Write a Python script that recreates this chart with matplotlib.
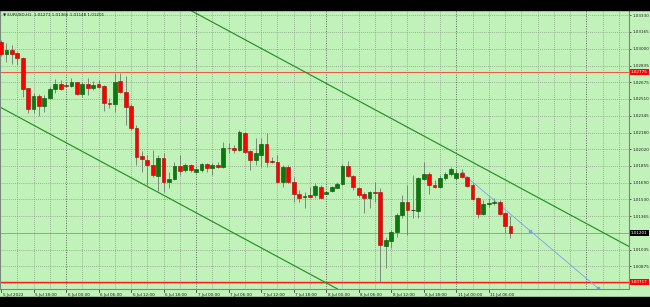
import numpy as np
import matplotlib.pyplot as plt
from matplotlib.patches import Rectangle
import matplotlib.transforms as mtransforms

# EURUSD H1 candles, 5 Jul 2022 12:00 -> 11 Jul 2022 10:00
opens = [1.03069, 1.02946, 1.02991, 1.02956, 1.02913, 1.02614, 1.02412, 1.02539, 1.02444, 1.02516,
         1.02607, 1.02656, 1.02643, 1.02636, 1.02673, 1.02558, 1.02656, 1.02614, 1.02653, 1.02636,
         1.02470, 1.02458, 1.02685, 1.02581, 1.02441, 1.02229, 1.01955, 1.01913, 1.01865, 1.01760,
         1.01930, 1.01696, 1.01728, 1.01855, 1.01816, 1.01865, 1.01793, 1.01816, 1.01871, 1.01838,
         1.01865, 1.01848, 1.02031, 1.02034, 1.02011, 1.02174, 1.02001, 1.01913, 1.01962, 1.02070,
         1.01899, 1.01897, 1.01696, 1.01842, 1.01701, 1.01581, 1.01552, 1.01571, 1.01571, 1.01653,
         1.01584, 1.01611, 1.01643, 1.01676, 1.01858, 1.01757, 1.01643, 1.01581, 1.01539, 1.01596,
         1.01598, 1.01076, 1.01125, 1.01207, 1.01376, 1.01500, 1.01425, 1.01418, 1.01728, 1.01777,
         1.01669, 1.01647, 1.01735, 1.01774, 1.01735, 1.01789, 1.01744, 1.01669, 1.01539, 1.01386,
         1.01488, 1.01490, 1.01506, 1.01393, 1.01271]
highs = [1.03086, 1.03056, 1.03037, 1.02972, 1.02923, 1.02620, 1.02565, 1.02555, 1.02549, 1.02630,
         1.02705, 1.02695, 1.02678, 1.02718, 1.02678, 1.02678, 1.02712, 1.02685, 1.02695, 1.02646,
         1.02516, 1.02761, 1.02761, 1.02737, 1.02458, 1.02255, 1.02001, 1.01962, 1.02011, 1.01962,
         1.01979, 1.01799, 1.01897, 1.01962, 1.01881, 1.01871, 1.01832, 1.01881, 1.01881, 1.01881,
         1.01897, 1.02092, 1.02077, 1.02060, 1.02207, 1.02184, 1.02011, 1.02125, 1.02125, 1.02174,
         1.01946, 1.01962, 1.01865, 1.01865, 1.01750, 1.01620, 1.01598, 1.01653, 1.01686, 1.01669,
         1.01611, 1.01659, 1.01701, 1.01871, 1.01904, 1.01767, 1.01653, 1.01598, 1.01611, 1.01701,
         1.01643, 1.01164, 1.01230, 1.01393, 1.01571, 1.01669, 1.01767, 1.01747, 1.01897, 1.01799,
         1.01718, 1.01767, 1.01799, 1.01848, 1.01826, 1.01826, 1.01757, 1.01686, 1.01555, 1.01523,
         1.01539, 1.01539, 1.01523, 1.01408, 1.01366]
lows = [1.02929, 1.02871, 1.02851, 1.02842, 1.02532, 1.02373, 1.02370, 1.02346, 1.02385, 1.02509,
        1.02565, 1.02597, 1.02630, 1.02630, 1.02549, 1.02532, 1.02549, 1.02594, 1.02614, 1.02392,
        1.02419, 1.02379, 1.02565, 1.02255, 1.02207, 1.01865, 1.01799, 1.01669, 1.01750, 1.01613,
        1.01604, 1.01637, 1.01718, 1.01767, 1.01799, 1.01799, 1.01783, 1.01799, 1.01799, 1.01767,
        1.01832, 1.01838, 1.01979, 1.01979, 1.02001, 1.01979, 1.01816, 1.01865, 1.01848, 1.01848,
        1.01881, 1.01686, 1.01653, 1.01686, 1.01506, 1.01500, 1.01442, 1.01539, 1.01539, 1.01539,
        1.01578, 1.01604, 1.01637, 1.01669, 1.01750, 1.01620, 1.01555, 1.01393, 1.01442, 1.01506,
        1.00724, 1.00861, 1.01051, 1.01164, 1.01344, 1.01181, 1.01344, 1.01344, 1.01718, 1.01578,
        1.01637, 1.01637, 1.01718, 1.01760, 1.01718, 1.01735, 1.01653, 1.01523, 1.01344, 1.01376,
        1.01457, 1.01474, 1.01376, 1.01197, 1.01148]
closes = [1.02946, 1.02988, 1.02952, 1.02913, 1.02607, 1.02412, 1.02539, 1.02444, 1.02516, 1.02607,
          1.02656, 1.02607, 1.02636, 1.02673, 1.02558, 1.02656, 1.02614, 1.02646, 1.02627, 1.02467,
          1.02465, 1.02678, 1.02581, 1.02434, 1.02229, 1.01946, 1.01920, 1.01865, 1.01767, 1.01930,
          1.01696, 1.01728, 1.01855, 1.01809, 1.01865, 1.01816, 1.01823, 1.01871, 1.01838, 1.01865,
          1.01848, 1.02028, 1.02026, 1.02011, 1.02190, 1.01995, 1.01913, 1.01979, 1.02070, 1.01897,
          1.01894, 1.01701, 1.01842, 1.01701, 1.01578, 1.01545, 1.01565, 1.01552, 1.01659, 1.01545,
          1.01598, 1.01647, 1.01679, 1.01858, 1.01760, 1.01647, 1.01571, 1.01539, 1.01598, 1.01591,
          1.01083, 1.01132, 1.01213, 1.01376, 1.01500, 1.01425, 1.01422, 1.01735, 1.01777, 1.01669,
          1.01653, 1.01735, 1.01777, 1.01826, 1.01789, 1.01744, 1.01662, 1.01532, 1.01386, 1.01484,
          1.01493, 1.01506, 1.01386, 1.01269, 1.01201]

price_ticks = [1.03330, 1.03165, 1.03000, 1.02835, 1.02675, 1.02510, 1.02345, 1.02180,
               1.02020, 1.01855, 1.01690, 1.01530, 1.01365, 1.01035, 1.00875]
hidden_grid = [1.01200, 1.00710]
time_pos = [0, 6, 12, 18, 24, 30, 36, 42, 48, 54, 60, 66, 72, 78, 84, 90]
time_labels = ["5 Jul 2022", "5 Jul 18:00", "6 Jul 00:00", "6 Jul 06:00", "6 Jul 12:00",
               "6 Jul 18:00", "7 Jul 00:00", "7 Jul 06:00", "7 Jul 12:00", "7 Jul 18:00",
               "8 Jul 00:00", "8 Jul 06:00", "8 Jul 12:00", "8 Jul 18:00", "11 Jul 00:00",
               "11 Jul 06:00"]
day_breaks = [12, 36, 60, 84, 108]

levels = [1.02775, 1.00717]          # red horizontal lines
bid = 1.01201
upper_trend = [(35.2, 1.03369), (115.7, 1.01073)]
lower_trend = [(-0.2, 1.02431), (62.2, 1.00650)]
blue_trend_x = [85.05, 97.6, 110.1]
blue_trend_y = [1.01786, 1.01223, 1.00663]

BG = '#c1f2b9'
W, H = 650, 307
fig = plt.figure(figsize=(6.5, 3.07), dpi=100, facecolor=BG)
ax = fig.add_axes([0, 18 / H, 629 / W, 279 / H])
ax.set_facecolor(BG)
fig.patches.append(Rectangle((0, 0), 1, 10 / H, transform=fig.transFigure, color='black'))
fig.patches.append(Rectangle((0, 1 - 10 / H), 1, 10 / H, transform=fig.transFigure, color='black'))

ax.set_xlim(-0.185, 115.87)
ax.set_ylim(1.00653, 1.03379)

# grid
for p in price_ticks + hidden_grid:
    ax.axhline(p, color='#8c9c8c', lw=0.6, ls=(0, (1, 1.5)), zorder=0)
for h in range(3, 116, 3):
    if h in day_breaks:
        continue
    ax.axvline(h, color='#8c9c8c', lw=0.6, ls=(0, (1, 1.5)), zorder=0)
for h in day_breaks:
    ax.axvline(h, color='#606a60', lw=0.7, ls=(0, (1, 1.5)), zorder=0)

ax.axhline(bid, color='#9aa59a', lw=0.7, zorder=1)
ax.axhline(levels[0], color='#ee5a4a', lw=0.75, zorder=2)
ax.axhline(levels[1], color='#ff1a1a', lw=1.0, zorder=2)

# trend lines
ax.axline(upper_trend[0], upper_trend[1], color='#239323', lw=0.85, zorder=2)
ax.axline(lower_trend[0], lower_trend[1], color='#239323', lw=0.85, zorder=2)
ax.plot(blue_trend_x, blue_trend_y, color='#7f9ff0', lw=0.6, marker='s', ms=1.5, zorder=2)

# candles
for i, (o, hi, lo, c) in enumerate(zip(opens, highs, lows, closes)):
    ax.vlines(i, lo, hi, color='#707a70', lw=0.6, zorder=3)
    if abs(c - o) < 0.00004:
        ax.hlines(c, i - 0.35, i + 0.35, color='#404040', lw=0.8, zorder=4)
        continue
    if c > o:
        fc, ec = '#0a7a0a', '#045004'
    else:
        fc, ec = '#ff0000', '#9a1010'
    ax.bar(i, c - o, bottom=o, width=0.7, color=fc, edgecolor=ec, lw=0.4, zorder=4)

# axes styling
ax.spines['top'].set_visible(False)
for s in ['left', 'right', 'bottom']:
    ax.spines[s].set_color('#7a8a7a')
    ax.spines[s].set_linewidth(0.8)

ax.yaxis.tick_right()
ax.set_yticks(price_ticks)
ax.set_yticklabels([f"{p:.5f}" for p in price_ticks])
ax.tick_params(axis='y', labelsize=3, length=1.5, width=0.5, pad=1, colors='#202020')
ax.set_xticks([])

trans = mtransforms.blended_transform_factory(ax.transData, ax.transAxes)
for h, lab in zip(time_pos, time_labels):
    ax.plot([h, h], [0, -0.012], transform=trans, color='#202020', lw=0.5, clip_on=False)
    ax.text(h + 0.3, -0.015, lab, transform=trans, fontsize=3, ha='left', va='top',
            color='#202020')

ytrans = mtransforms.blended_transform_factory(ax.transAxes, ax.transData)
for lv in levels:
    ax.text(1.003, lv, f"{lv:.5f}", transform=ytrans, fontsize=3, color='white',
            ha='left', va='center',
            bbox=dict(boxstyle='square,pad=0.25', fc='#ff0000', ec='none'))
ax.text(1.003, bid, f"{bid:.5f}", transform=ytrans, fontsize=3, color='white',
        ha='left', va='center',
        bbox=dict(boxstyle='square,pad=0.25', fc='black', ec='none'))

ax.text(0.004, 0.985,
        f"\u25bc EURUSD,H1  {opens[-1]:.5f} {highs[-1]:.5f} {lows[-1]:.5f} {closes[-1]:.5f}",
        transform=ax.transAxes, fontsize=3, ha='left', va='center', color='#202020')

fig.savefig('out.png', dpi=100, facecolor=BG)
